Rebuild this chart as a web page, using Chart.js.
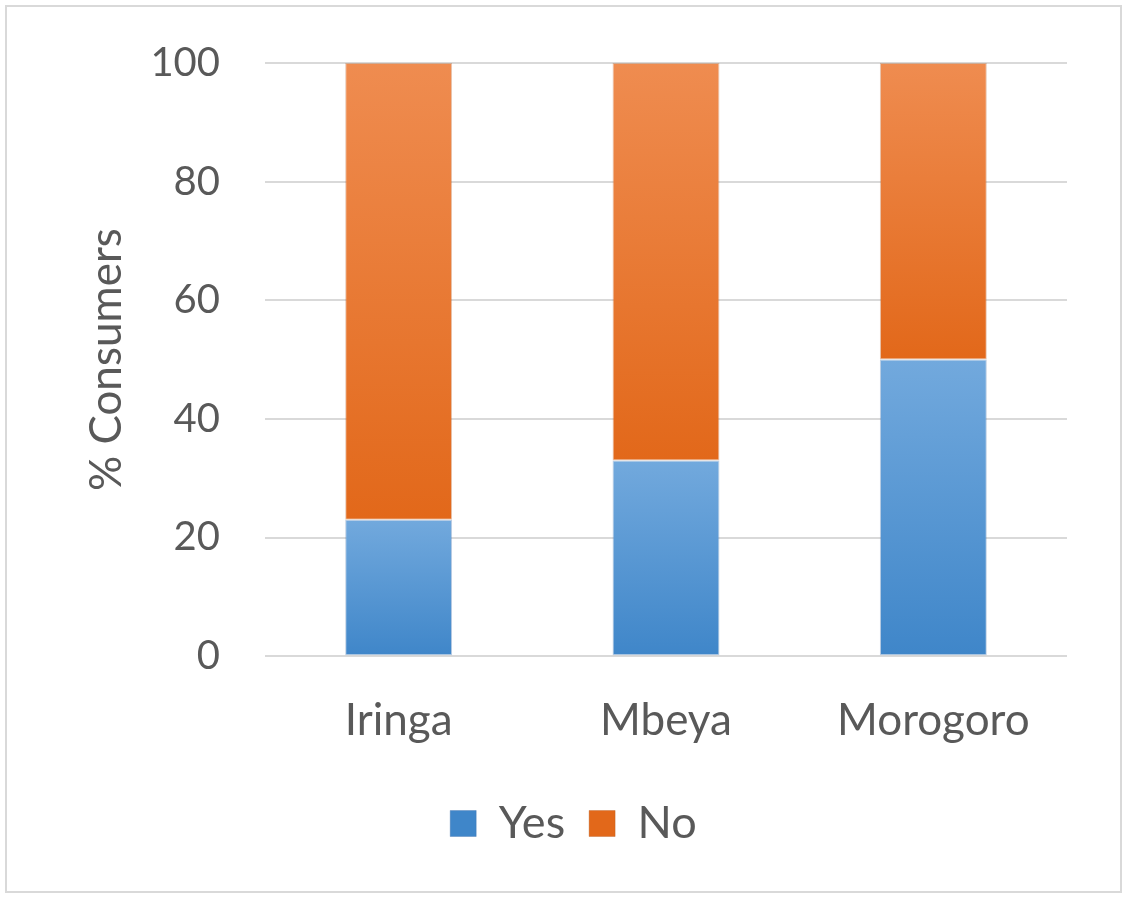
<!DOCTYPE html>
<html>
<head>
<meta charset="utf-8">
<script src="https://cdn.jsdelivr.net/npm/chart.js@4/dist/chart.umd.min.js"></script>
<style>
  html, body { margin: 0; padding: 0; background: #fff; }
  #frame {
    position: absolute; left: 5px; top: 5px;
    width: 1113px; height: 884px;
    border: 2px solid #d9d9d9;
  }
  #wrap { position: absolute; left: 0; top: 0; width: 1127px; height: 898px; }
</style>
</head>
<body>
<div id="frame"></div>
<div id="wrap"><canvas id="chart"></canvas></div>
<script>
// ── Data ────────────────────────────────────────────────────────────────────
const regions   = ['Iringa', 'Mbeya', 'Morogoro'];
const yesValues = [23, 33, 50];
const noValues  = [77, 67, 50];
const yTicks    = [0, 20, 40, 60, 80, 100];

const TEXT = '#595959';
const FONT = 'Lato, "Liberation Sans", sans-serif';

// vertical gradient spanning one stacked segment
function segmentFill(ctx, top, bottom, light, dark) {
  const chart = ctx.chart;
  const y = chart.scales.y;
  if (!chart.chartArea || !y) return dark;
  const i = ctx.dataIndex;
  const y0 = y.getPixelForValue(top(i));
  const y1 = y.getPixelForValue(bottom(i));
  if (!isFinite(y0) || !isFinite(y1)) return dark;
  const g = chart.ctx.createLinearGradient(0, y0, 0, y1);
  g.addColorStop(0, light);
  g.addColorStop(1, dark);
  return g;
}

new Chart(document.getElementById('chart').getContext('2d'), {
  type: 'bar',
  data: {
    labels: regions,
    datasets: [
      {
        label: 'Yes',
        data: yesValues,
        backgroundColor: ctx => ctx.type === 'data'
          ? segmentFill(ctx, i => yesValues[i], () => 0, '#72a9dd', '#3f86c9')
          : '#4a8fd0',
        borderColor: 'rgba(60,110,170,0.35)',
        borderWidth: 1,
        borderSkipped: false,
      },
      {
        label: 'No',
        data: noValues,
        backgroundColor: ctx => ctx.type === 'data'
          ? segmentFill(ctx, i => yesValues[i] + noValues[i], i => yesValues[i], '#ef8c50', '#e2681a')
          : '#ec7a2c',
        borderColor: 'rgba(180,90,30,0.35)',
        borderWidth: 1,
        borderSkipped: false,
      },
    ],
  },
  options: {
    responsive: true,
    maintainAspectRatio: false,
    animation: false,
    datasets: { bar: { categoryPercentage: 1.0, barPercentage: 0.4 } },
    layout: { padding: { top: 63, right: 60, bottom: 42, left: 80 } },
    plugins: {
      legend: {
        position: 'bottom',
        labels: {
          color: TEXT,
          font: { family: FONT, size: 45 },
          boxWidth: 26,
          boxHeight: 26,
          padding: 24,
        },
      },
      tooltip: { enabled: false },
    },
    scales: {
      x: {
        stacked: true,
        grid: { display: false },
        border: { display: false },
        ticks: { color: TEXT, font: { family: FONT, size: 44 }, padding: 30 },
      },
      y: {
        stacked: true,
        min: 0,
        max: 100,
        afterBuildTicks: axis => { axis.ticks = yTicks.map(v => ({ value: v })); },
        afterFit: axis => { axis.width = 185; },
        grid: { color: '#d9d9d9', lineWidth: 2, drawTicks: false },
        border: { display: false },
        ticks: { color: TEXT, font: { family: FONT, size: 40, lineHeight: 0.8 }, padding: 45 },
        title: {
          display: true,
          text: '% Consumers',
          color: TEXT,
          font: { family: FONT, size: 44 },
          padding: { top: 0, bottom: 0 },
        },
      },
    },
  },
});
</script>
</body>
</html>
